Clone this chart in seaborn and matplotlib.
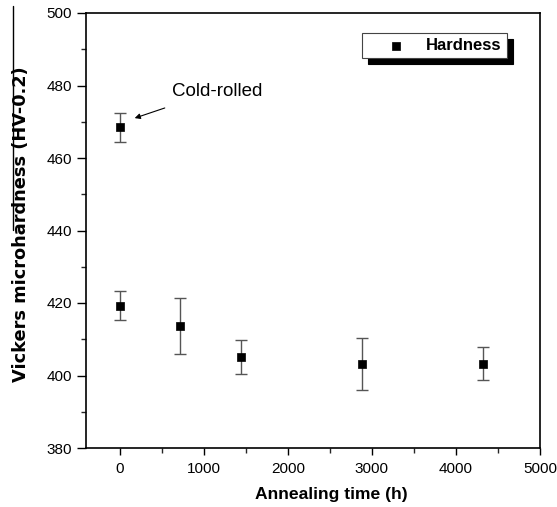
import matplotlib
matplotlib.use("Agg")
import matplotlib.pyplot as plt
import seaborn as sns
import pandas as pd
from matplotlib.lines import Line2D
from matplotlib.ticker import MultipleLocator

sns.set_style("ticks")
plt.rcParams['font.family'] = ['Liberation Sans', 'DejaVu Sans']
plt.rcParams['text.color'] = 'black'
plt.rcParams['axes.labelcolor'] = 'black'

time_h = [0, 0, 720, 1440, 2880, 4320]
hardness = [468.5, 419.3, 413.7, 405.0, 403.1, 403.3]
err = [4.0, 4.0, 7.7, 4.7, 7.2, 4.5]

df = pd.DataFrame({"time": time_h, "hv": hardness, "err": err})

fig = plt.figure(figsize=(5.57, 5.07), dpi=100)
ax = fig.add_axes([86/557, 59/507, 454/557, 435/507])

ax.errorbar(df["time"], df["hv"], yerr=df["err"], fmt='none', ecolor='#555555',
            elinewidth=1.0, capsize=4, capthick=1.0, zorder=2)
sns.scatterplot(data=df, x="time", y="hv", marker='s', color='black', s=30,
                edgecolor='black', linewidth=0.5, ax=ax, zorder=3, label="Hardness")

ax.set_xlim(-400, 5000)
ax.set_ylim(380, 500)
ax.xaxis.set_major_locator(MultipleLocator(1000))
ax.xaxis.set_minor_locator(MultipleLocator(500))
ax.yaxis.set_major_locator(MultipleLocator(20))
ax.yaxis.set_minor_locator(MultipleLocator(10))
ax.tick_params(which='major', direction='out', width=1, labelsize=11, colors='black')
ax.tick_params(axis='y', which='major', length=6.5, pad=3.5)
ax.tick_params(axis='x', which='major', length=5, pad=5)
ax.tick_params(which='minor', direction='out', length=3.5, width=1)
for s in ax.spines.values():
    s.set_linewidth(1.2)
    s.set_color('black')
    s.set_visible(True)

ax.set_xlabel("Annealing time (h)", fontsize=12.6, fontweight='bold', color='black')
ax.xaxis.set_label_coords((331 - 86) / 454, -(495 - 448) / 435)
ax.xaxis.label.set_va('center')
ax.set_ylabel("Vickers microhardness (HV-0.2)", fontsize=12.8, fontweight='bold',
              family=['DejaVu Sans'], color='black')
ax.yaxis.set_label_coords(-(86 - 21) / 454, (448 - 224) / 435)
ax.yaxis.label.set_va('center')

ax.text(620, 478.3, "Cold-rolled", fontsize=13.5, va='center', ha='left', color='black')
ax.annotate("", xy=(179, 471.0), xytext=(537, 473.8),
            arrowprops=dict(arrowstyle='-|>', color='black', lw=0.8,
                            shrinkA=0, shrinkB=0, mutation_scale=8))

leg = ax.legend(loc='upper right', bbox_to_anchor=(0.927, 0.953), frameon=True,
                fancybox=False, shadow={'ox': 4.3, 'oy': -4.3, 'color': 'black', 'alpha': 1},
                prop={'weight': 'bold', 'size': 12}, handletextpad=0.15,
                handlelength=3.4, borderpad=0.3, borderaxespad=0, markerscale=1.0)
leg.get_frame().set_edgecolor('#444444')
leg.get_frame().set_linewidth(0.8)
for t in leg.get_texts():
    t.set_color('black')

fig.add_artist(Line2D([13/557, 13/557], [1 - 6/507, 1 - 230/507], color='black', lw=1.0))

fig.savefig("out.png", dpi=100)
